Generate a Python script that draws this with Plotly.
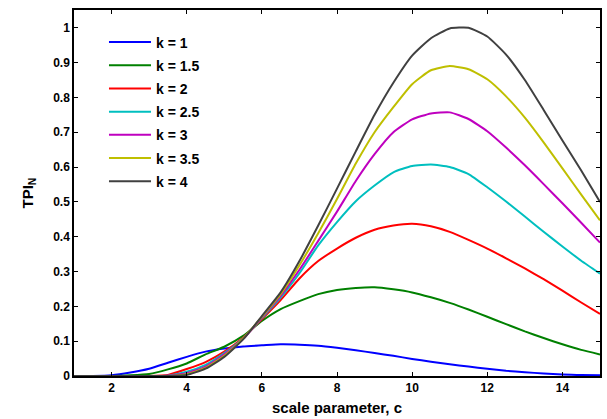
import plotly.graph_objects as go

c_values = [1, 1.5, 2, 2.5, 3, 3.5, 4, 4.5, 5, 5.5, 6, 6.5, 7, 7.5, 8, 8.5,
            9, 9.5, 10, 10.5, 11, 11.5, 12, 12.5, 13, 13.5, 14, 14.5, 15]

tpi_k1 = [0.0, 0.0, 0.002, 0.010, 0.021, 0.038, 0.055, 0.070, 0.079, 0.085, 0.088, 0.091,
          0.090, 0.087, 0.081, 0.074, 0.066, 0.058, 0.049, 0.041, 0.034, 0.027, 0.021,
          0.015, 0.011, 0.007, 0.004, 0.003, 0.002]
tpi_k15 = [0.0, 0.0, 0.0, 0.002, 0.006, 0.019, 0.036, 0.062, 0.084, 0.115, 0.158, 0.192,
           0.215, 0.235, 0.247, 0.253, 0.255, 0.249, 0.240, 0.226, 0.210, 0.191, 0.170,
           0.149, 0.128, 0.109, 0.091, 0.075, 0.062]
tpi_k2 = [0.0, 0.0, 0.0, 0.0, 0.0, 0.003, 0.020, 0.040, 0.070, 0.110, 0.163, 0.218,
          0.280, 0.330, 0.366, 0.397, 0.420, 0.432, 0.437, 0.430, 0.414, 0.391, 0.366,
          0.338, 0.309, 0.278, 0.245, 0.211, 0.178]
tpi_k25 = [0.0, 0.0, 0.0, 0.0, 0.0, 0.001, 0.012, 0.032, 0.066, 0.108, 0.166, 0.225,
           0.295, 0.375, 0.442, 0.502, 0.547, 0.585, 0.603, 0.607, 0.600, 0.580, 0.542,
           0.501, 0.458, 0.414, 0.372, 0.331, 0.294]
tpi_k3 = [0.0, 0.0, 0.0, 0.0, 0.0, 0.001, 0.008, 0.027, 0.062, 0.106, 0.168, 0.230,
          0.305, 0.388, 0.472, 0.560, 0.637, 0.700, 0.737, 0.754, 0.757, 0.738, 0.703,
          0.656, 0.605, 0.551, 0.496, 0.440, 0.383]
tpi_k35 = [0.0, 0.0, 0.0, 0.0, 0.0, 0.0, 0.005, 0.023, 0.058, 0.107, 0.170, 0.235,
           0.318, 0.410, 0.508, 0.610, 0.700, 0.772, 0.838, 0.878, 0.890, 0.881, 0.852,
           0.803, 0.742, 0.671, 0.596, 0.521, 0.447]
tpi_k4 = [0.0, 0.0, 0.0, 0.0, 0.0, 0.0, 0.003, 0.021, 0.055, 0.105, 0.172, 0.240,
          0.330, 0.432, 0.538, 0.645, 0.750, 0.842, 0.920, 0.970, 0.998, 1.000, 0.975,
          0.923, 0.850, 0.764, 0.676, 0.590, 0.500]

series_names = ["k = 1", "k = 1.5", "k = 2", "k = 2.5", "k = 3", "k = 3.5", "k = 4"]
series_values = [tpi_k1, tpi_k15, tpi_k2, tpi_k25, tpi_k3, tpi_k35, tpi_k4]
series_colors = ["#0000ff", "#008000", "#ff0000", "#00bfbf", "#bf00bf", "#bfbf00", "#404040"]

x_ticks = [2, 4, 6, 8, 10, 12, 14]
y_ticks = [0, 0.1, 0.2, 0.3, 0.4, 0.5, 0.6, 0.7, 0.8, 0.9, 1]
y_tick_labels = ["0", "0.1", "0.2", "0.3", "0.4", "0.5", "0.6", "0.7", "0.8", "0.9", "1"]

FONT = "Liberation Sans, Arial, sans-serif"

fig = go.Figure()
for i, (name, vals, col) in enumerate(zip(series_names, series_values, series_colors)):
    fig.add_trace(go.Scatter(
        x=c_values, y=vals, mode="lines", name=name,
        line=dict(color=col, width=2, shape="spline", smoothing=0.5),
        legendgroup=f"g{i}",
    ))

fig.update_layout(
    width=607, height=419,
    margin=dict(l=74, r=5, t=10, b=41),
    paper_bgcolor="white", plot_bgcolor="white",
    font=dict(family=FONT, size=12, color="black"),
    showlegend=True,
    legend=dict(
        x=0.057, y=0.955, xanchor="left", yanchor="top",
        bgcolor="rgba(0,0,0,0)", borderwidth=0,
        font=dict(family=FONT, size=14, color="black", weight="bold"),
        tracegroupgap=2, itemwidth=42,
    ),
)

fig.update_xaxes(
    range=[1, 15], tickvals=x_ticks, ticktext=[str(t) for t in x_ticks],
    showgrid=False, zeroline=False,
    showline=True, linecolor="black", linewidth=1.5, mirror="ticks",
    ticks="inside", ticklen=4, tickcolor="black", tickwidth=1,
    tickfont=dict(family=FONT, size=12, color="black", weight="bold"),
    title=dict(text="scale parameter, c", standoff=8,
               font=dict(family=FONT, size=15, color="black", weight="bold")),
)
fig.update_yaxes(
    range=[0, 1.051], tickvals=y_ticks, ticktext=y_tick_labels,
    showgrid=False, zeroline=False,
    showline=True, linecolor="black", linewidth=1.5, mirror="ticks",
    ticks="inside", ticklen=4, tickcolor="black", tickwidth=1,
    tickfont=dict(family=FONT, size=12, color="black", weight="bold"),
    title=dict(text="TPI<sub>N</sub>", standoff=16,
               font=dict(family=FONT, size=15, color="black", weight="bold")),
)

fig.write_html("out.html", config={"displayModeBar": False},
               post_script="document.body.style.margin='0';")
